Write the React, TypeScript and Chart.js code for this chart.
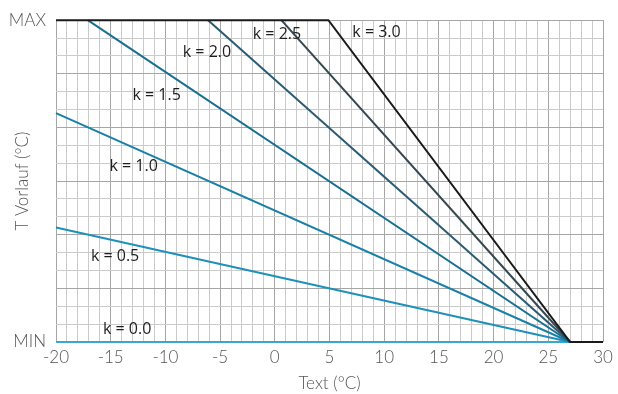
import React, { useEffect, useRef } from 'react';
import { Chart, registerables } from 'chart.js';

Chart.register(...registerables);

const kLabels = ['k = 0.0', 'k = 0.5', 'k = 1.0', 'k = 1.5', 'k = 2.0', 'k = 2.5', 'k = 3.0'];
const kXs = [
  [-20, 27],
  [-20, 27],
  [-20, 27],
  [-17.1, 27],
  [-6.1, 27],
  [0.6, 27],
  [-20, 4.9, 27, 30],
];
const kYs = [
  [0, 0],
  [6.4, 0],
  [12.8, 0],
  [18, 0],
  [18, 0],
  [18, 0],
  [18, 18, 0, 0],
];
const kColors = ['#3aa8cc', '#1e90ba', '#1a80a8', '#186f94', '#2b5b73', '#35474f', '#1a1a1a'];
const labelX = [-13.5, -14.6, -12.9, -10.8, -6.2, 0.2, 9.3];
const labelY = [0.7, 4.8, 9.8, 13.8, 16.2, 17.2, 17.3];

const yTickLabels: Record<number, string> = { 0: 'MIN', 18: 'MAX' };

const labelPlugin = {
  id: 'kLabels',
  afterDatasetsDraw(chart: any) {
    const { ctx, scales } = chart;
    ctx.save();
    ctx.font = '400 16px "Open Sans", "DejaVu Sans", sans-serif';
    ctx.fillStyle = '#1e1e1e';
    ctx.textAlign = 'center';
    ctx.textBaseline = 'middle';
    kLabels.forEach((t, i) => {
      ctx.fillText(t, scales.x.getPixelForValue(labelX[i]), scales.y.getPixelForValue(labelY[i]));
    });
    ctx.restore();
  },
};

export default function App() {
  const ref = useRef<HTMLCanvasElement>(null);
  useEffect(() => {
    document.body.style.margin = '0';
    const datasets = kLabels
      .map((l, i) => ({
        label: l,
        data: kXs[i].map((x, j) => ({ x, y: kYs[i][j] })),
        borderColor: kColors[i],
        borderWidth: 2,
        pointRadius: 0,
        tension: 0,
        fill: false,
        clip: 4,
      }))
      .reverse();
    const chart = new Chart(ref.current!, {
      type: 'line',
      data: { datasets },
      plugins: [labelPlugin],
      options: {
        animation: false,
        responsive: false,
        layout: { padding: { top: 19, right: 15, left: 0, bottom: 0 } },
        plugins: { legend: { display: false }, tooltip: { enabled: false } },
        scales: {
          x: {
            type: 'linear',
            min: -20,
            max: 30,
            afterFit(s: any) { s.height = 52; },
            ticks: {
              stepSize: 1,
              autoSkip: false,
              maxRotation: 0,
              padding: 5,
              color: '#555',
              font: { family: 'Lato, "Open Sans", sans-serif', size: 17, weight: '300' },
              callback: (v: any) => (Number(v) % 5 === 0 ? String(v) : ''),
            },
            grid: {
              drawTicks: false,
              color: (c: any) => (c.tick && c.tick.value % 5 === 0 ? '#a6a6a6' : '#cbcbcb'),
              lineWidth: 1,
            },
            border: { display: false },
            title: {
              display: true,
              text: 'Text (°C)',
              color: '#555',
              padding: { top: 1, bottom: 0 },
              font: { family: 'Lato, "Open Sans", sans-serif', size: 17, weight: '300' },
            },
          },
          y: {
            type: 'linear',
            min: 0,
            max: 18,
            afterFit(s: any) { s.width = 56; },
            ticks: {
              stepSize: 1,
              autoSkip: false,
              padding: 10,
              color: '#555',
              font: { family: 'Lato, "Open Sans", sans-serif', size: 17, weight: '300' },
              callback: (v: any) => yTickLabels[Number(v)] ?? '',
            },
            grid: {
              drawTicks: false,
              color: (c: any) => (c.tick && c.tick.value % 3 === 0 ? '#a6a6a6' : '#cbcbcb'),
              lineWidth: 1,
            },
            border: { display: false },
            title: {
              display: true,
              text: 'T Vorlauf (°C)',
              color: '#555',
              padding: { top: 12, bottom: 0 },
              font: { family: 'Lato, "Open Sans", sans-serif', size: 17, weight: '300' },
            },
          },
        },
      },
    });
    return () => chart.destroy();
  }, []);
  return (
    <div style={{ width: 618, height: 394 }}>
      <canvas ref={ref} width={618} height={394} style={{ display: 'block' }} />
    </div>
  );
}
